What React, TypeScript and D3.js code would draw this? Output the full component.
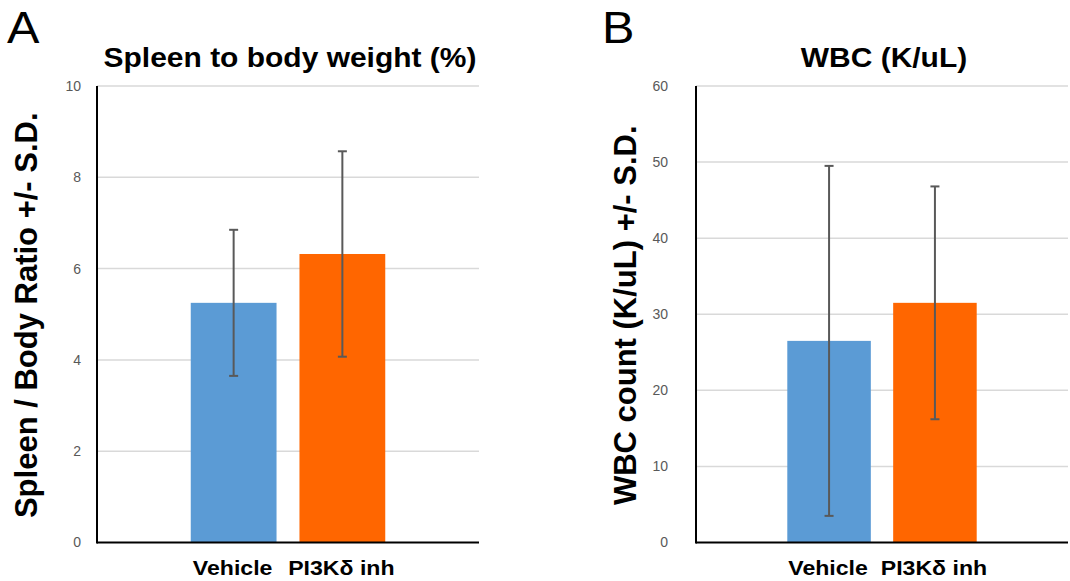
import React from "react";
import * as d3 from "d3";

// Group names (one cluster per panel, two series inside)
const seriesNames = ["Vehicle", "PI3Kδ inh"];
const seriesColors = ["#5b9bd5", "#ff6600"];

// Panel A: spleen to body weight ratio (%)
const spleenMeans = [5.25, 6.32];
const spleenSD = [1.6, 2.25];
const spleenTicks = [0, 2, 4, 6, 8, 10];

// Panel B: white blood cell counts (K/uL)
const wbcMeans = [26.5, 31.5];
const wbcSD = [23.0, 15.3];
const wbcTicks = [0, 10, 20, 30, 40, 50, 60];

type PanelProps = {
  letter: string;
  letterX: number;
  title: string;
  yLabel: string;
  yLabelX: number;
  means: number[];
  sds: number[];
  ticks: number[];
  x0: number;
  x1: number;
  tickLabelX: number;
};

const FONT = "'Liberation Sans', Arial, sans-serif";
const TOP = 86;
const BOTTOM = 542.5;

function Panel(p: PanelProps) {
  const y = d3
    .scaleLinear()
    .domain([0, d3.max(p.ticks) as number])
    .range([BOTTOM, TOP]);
  const group = d3
    .scaleBand<string>()
    .domain(["all"])
    .range([p.x0, p.x1])
    .paddingInner(0)
    .paddingOuter(0.482);
  const inner = d3
    .scaleBand<string>()
    .domain(seriesNames)
    .range([0, group.bandwidth()])
    .paddingInner(0.211);
  const gx = group("all") as number;
  const cx = (p.x0 + p.x1) / 2;

  return (
    <g>
      <text
        transform={`translate(${p.letterX},43) scale(1.08,1)`}
        fontFamily={FONT}
        fontSize={45}
        fill="#000"
      >
        {p.letter}
      </text>
      <text
        transform={`translate(${cx + 2},67) scale(1.09,1)`}
        textAnchor="middle"
        fontFamily={FONT}
        fontWeight="bold"
        fontSize={27.5}
        fill="#000"
      >
        {p.title}
      </text>
      <text
        transform={`translate(${p.yLabelX},${(TOP + BOTTOM) / 2 + 1}) rotate(-90)`}
        textAnchor="middle"
        fontFamily={FONT}
        fontWeight="bold"
        fontSize={31}
        fill="#000"
      >
        {p.yLabel}
      </text>
      {p.ticks.map((t) => (
        <g key={t}>
          {t > 0 && (
            <line
              x1={p.x0}
              x2={p.x1}
              y1={y(t)}
              y2={y(t)}
              stroke="#d9d9d9"
              strokeWidth={1.5}
            />
          )}
          <text
            x={p.tickLabelX}
            y={y(t)}
            dy="0.35em"
            textAnchor="end"
            fontFamily={FONT}
            fontSize={14}
            fill="#595959"
          >
            {t}
          </text>
        </g>
      ))}
      {seriesNames.map((s, i) => {
        const bx = gx + (inner(s) as number);
        const bw = inner.bandwidth();
        const mx = bx + bw / 2;
        const hi = y(p.means[i] + p.sds[i]);
        const lo = y(p.means[i] - p.sds[i]);
        return (
          <g key={s}>
            <rect
              x={bx}
              y={y(p.means[i])}
              width={bw}
              height={BOTTOM - y(p.means[i])}
              fill={seriesColors[i]}
            />
            <line x1={mx} x2={mx} y1={hi} y2={lo} stroke="#595959" strokeWidth={2} />
            <line x1={mx - 4.5} x2={mx + 4.5} y1={hi} y2={hi} stroke="#595959" strokeWidth={2} />
            <line x1={mx - 4.5} x2={mx + 4.5} y1={lo} y2={lo} stroke="#595959" strokeWidth={2} />
            <text
              transform={`translate(${mx - 1},575) scale(1.1,1)`}
              textAnchor="middle"
              fontFamily={FONT}
              fontWeight="bold"
              fontSize={21}
              fill="#000"
            >
              {s}
            </text>
          </g>
        );
      })}
      <line x1={p.x0} x2={p.x0} y1={TOP} y2={BOTTOM + 1} stroke="#000" strokeWidth={2} />
      <line x1={p.x0} x2={p.x1} y1={BOTTOM} y2={BOTTOM} stroke="#000" strokeWidth={2} />
    </g>
  );
}

export default function App() {
  return (
    <div style={{ position: "absolute", left: 0, top: 0 }}>
      <svg width={1070} height={581} style={{ display: "block", background: "#fff" }}>
        <Panel
          letter="A"
          letterX={7}
          title="Spleen to body weight (%)"
          yLabel="Spleen / Body Ratio +/- S.D."
          yLabelX={37}
          means={spleenMeans}
          sds={spleenSD}
          ticks={spleenTicks}
          x0={97}
          x1={479}
          tickLabelX={81}
        />
        <Panel
          letter="B"
          letterX={602}
          title="WBC (K/uL)"
          yLabel="WBC count (K/uL) +/- S.D."
          yLabelX={636}
          means={wbcMeans}
          sds={wbcSD}
          ticks={wbcTicks}
          x0={696}
          x1={1068}
          tickLabelX={668}
        />
      </svg>
    </div>
  );
}
